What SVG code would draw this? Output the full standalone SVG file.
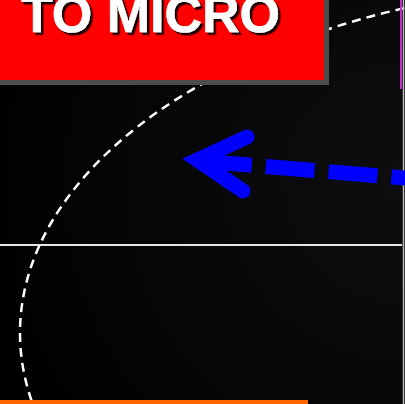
<svg xmlns="http://www.w3.org/2000/svg" width="405" height="404" viewBox="0 0 405 404">
<defs>
<radialGradient id="bg" cx="1" cy="0.45" r="1.1">
<stop offset="0" stop-color="#0e0e0e"/>
<stop offset="1" stop-color="#000000"/>
</radialGradient>
<filter id="shadow" x="-5%" y="-20%" width="115%" height="150%">
<feDropShadow dx="2.5" dy="2.5" stdDeviation="0.6" flood-color="#000000" flood-opacity="0.9"/>
</filter>
<style>
.title{font-family:"Liberation Sans",Arial,sans-serif;font-weight:bold;font-size:52px}
.arrow{fill:none;stroke:#0000ff;stroke-width:15}
</style>
</defs>
<rect id="background" x="0" y="0" width="405" height="404" fill="url(#bg)"/>
<g id="guides">
<ellipse cx="632" cy="333" rx="612" ry="350" fill="none" stroke="#ffffff" stroke-width="2.5" stroke-dasharray="9 6"/>
<line x1="0" y1="245" x2="402" y2="245" stroke="#e6e6e6" stroke-width="2"/>
<line x1="401" y1="0" x2="401" y2="89" stroke="#c030c8" stroke-width="2"/>
<line x1="403.5" y1="0" x2="403.5" y2="404" stroke="#bbbbbb" stroke-width="1.5"/>
<rect x="0" y="400" width="308" height="4" fill="#ff6600"/>
</g>
<g id="title-box">
<rect x="-10" y="-10" width="336.5" height="92.5" fill="#ff0000" stroke="#4d4d4d" stroke-width="5"/>
<text class="title" x="21" y="32" fill="#ffffff" stroke="#ffffff" stroke-width="0.6" filter="url(#shadow)">TO MICRO</text>
</g>
<g id="connectors">
<line class="arrow" x1="203" y1="161.3" x2="412" y2="178.5" stroke-dasharray="49 14"/>
<path class="arrow" d="M247,137 L197.5,160 L243,191" stroke-width="16" stroke-linecap="round" stroke-linejoin="miter" stroke-miterlimit="10"/>
</g>
</svg>
